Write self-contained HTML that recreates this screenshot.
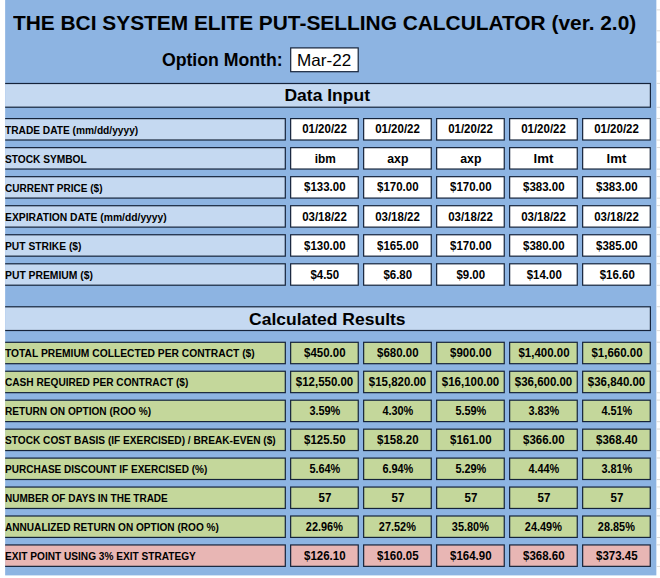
<!DOCTYPE html>
<html><head><meta charset="utf-8"><title>BCI Put-Selling Calculator</title>
<style>
html,body{margin:0;padding:0;background:#fff;}
body{width:660px;height:578px;position:relative;overflow:hidden;font-family:"Liberation Sans",Arial,sans-serif;color:#000;}
svg{position:absolute;left:0;top:0;}
.t{position:absolute;font-weight:bold;white-space:nowrap;}
.t span{display:inline-block;}
.l{left:5.2px;font-size:11.6px;text-align:left;}
.l span{transform-origin:0 50%;transform:scaleX(0.879);}
.v{font-size:12.6px;text-align:center;}
.v span{transform:scaleX(0.912);}
.h{left:5px;width:645px;text-align:center;font-size:17.3px;}
.h span{transform:scaleX(1.012);}
#title{left:13.4px;top:10.5px;font-size:21px;line-height:24px;transform-origin:0 50%;transform:scaleX(0.994);}
#om{left:161.9px;top:47.5px;font-size:17.7px;line-height:24px;}
#mon{left:289.6px;top:48.4px;width:68.7px;height:25px;font-weight:normal;font-size:16.5px;text-align:center;line-height:25px;}
#mon span{transform:scaleX(1.035);}
</style></head><body>
<svg width="660" height="578" viewBox="0 0 660 578">
<defs><clipPath id="cp"><rect x="5.15" y="0" width="651.2" height="575.4"/></clipPath></defs>
<rect x="5.15" y="0" width="651.2" height="575.4" fill="#8db4e2"/>
<g clip-path="url(#cp)" stroke="#15233a" stroke-width="1.2">
<rect x="-4.40" y="83.50" width="654.80" height="23.70" fill="#c5d9f1"/>
<rect x="-4.40" y="306.80" width="654.80" height="23.70" fill="#c5d9f1"/>
<rect x="-4.40" y="118.60" width="289.70" height="21.40" fill="#c5d9f1"/>
<rect x="290.65" y="118.60" width="67.60" height="21.40" fill="#ffffff"/>
<rect x="363.65" y="118.60" width="67.60" height="21.40" fill="#ffffff"/>
<rect x="436.65" y="118.60" width="67.60" height="21.40" fill="#ffffff"/>
<rect x="509.65" y="118.60" width="67.60" height="21.40" fill="#ffffff"/>
<rect x="582.65" y="118.60" width="67.60" height="21.40" fill="#ffffff"/>
<rect x="-4.40" y="147.64" width="289.70" height="21.40" fill="#c5d9f1"/>
<rect x="290.65" y="147.64" width="67.60" height="21.40" fill="#ffffff"/>
<rect x="363.65" y="147.64" width="67.60" height="21.40" fill="#ffffff"/>
<rect x="436.65" y="147.64" width="67.60" height="21.40" fill="#ffffff"/>
<rect x="509.65" y="147.64" width="67.60" height="21.40" fill="#ffffff"/>
<rect x="582.65" y="147.64" width="67.60" height="21.40" fill="#ffffff"/>
<rect x="-4.40" y="176.68" width="289.70" height="21.40" fill="#c5d9f1"/>
<rect x="290.65" y="176.68" width="67.60" height="21.40" fill="#ffffff"/>
<rect x="363.65" y="176.68" width="67.60" height="21.40" fill="#ffffff"/>
<rect x="436.65" y="176.68" width="67.60" height="21.40" fill="#ffffff"/>
<rect x="509.65" y="176.68" width="67.60" height="21.40" fill="#ffffff"/>
<rect x="582.65" y="176.68" width="67.60" height="21.40" fill="#ffffff"/>
<rect x="-4.40" y="205.72" width="289.70" height="21.40" fill="#c5d9f1"/>
<rect x="290.65" y="205.72" width="67.60" height="21.40" fill="#ffffff"/>
<rect x="363.65" y="205.72" width="67.60" height="21.40" fill="#ffffff"/>
<rect x="436.65" y="205.72" width="67.60" height="21.40" fill="#ffffff"/>
<rect x="509.65" y="205.72" width="67.60" height="21.40" fill="#ffffff"/>
<rect x="582.65" y="205.72" width="67.60" height="21.40" fill="#ffffff"/>
<rect x="-4.40" y="234.76" width="289.70" height="21.40" fill="#c5d9f1"/>
<rect x="290.65" y="234.76" width="67.60" height="21.40" fill="#ffffff"/>
<rect x="363.65" y="234.76" width="67.60" height="21.40" fill="#ffffff"/>
<rect x="436.65" y="234.76" width="67.60" height="21.40" fill="#ffffff"/>
<rect x="509.65" y="234.76" width="67.60" height="21.40" fill="#ffffff"/>
<rect x="582.65" y="234.76" width="67.60" height="21.40" fill="#ffffff"/>
<rect x="-4.40" y="263.80" width="289.70" height="21.40" fill="#c5d9f1"/>
<rect x="290.65" y="263.80" width="67.60" height="21.40" fill="#ffffff"/>
<rect x="363.65" y="263.80" width="67.60" height="21.40" fill="#ffffff"/>
<rect x="436.65" y="263.80" width="67.60" height="21.40" fill="#ffffff"/>
<rect x="509.65" y="263.80" width="67.60" height="21.40" fill="#ffffff"/>
<rect x="582.65" y="263.80" width="67.60" height="21.40" fill="#ffffff"/>
<rect x="-4.40" y="342.30" width="289.70" height="21.40" fill="#c4d79b"/>
<rect x="290.65" y="342.30" width="67.60" height="21.40" fill="#c4d79b"/>
<rect x="363.65" y="342.30" width="67.60" height="21.40" fill="#c4d79b"/>
<rect x="436.65" y="342.30" width="67.60" height="21.40" fill="#c4d79b"/>
<rect x="509.65" y="342.30" width="67.60" height="21.40" fill="#c4d79b"/>
<rect x="582.65" y="342.30" width="67.60" height="21.40" fill="#c4d79b"/>
<rect x="-4.40" y="371.25" width="289.70" height="21.40" fill="#c4d79b"/>
<rect x="290.65" y="371.25" width="67.60" height="21.40" fill="#c4d79b"/>
<rect x="363.65" y="371.25" width="67.60" height="21.40" fill="#c4d79b"/>
<rect x="436.65" y="371.25" width="67.60" height="21.40" fill="#c4d79b"/>
<rect x="509.65" y="371.25" width="67.60" height="21.40" fill="#c4d79b"/>
<rect x="582.65" y="371.25" width="67.60" height="21.40" fill="#c4d79b"/>
<rect x="-4.40" y="400.20" width="289.70" height="21.40" fill="#c4d79b"/>
<rect x="290.65" y="400.20" width="67.60" height="21.40" fill="#c4d79b"/>
<rect x="363.65" y="400.20" width="67.60" height="21.40" fill="#c4d79b"/>
<rect x="436.65" y="400.20" width="67.60" height="21.40" fill="#c4d79b"/>
<rect x="509.65" y="400.20" width="67.60" height="21.40" fill="#c4d79b"/>
<rect x="582.65" y="400.20" width="67.60" height="21.40" fill="#c4d79b"/>
<rect x="-4.40" y="429.15" width="289.70" height="21.40" fill="#c4d79b"/>
<rect x="290.65" y="429.15" width="67.60" height="21.40" fill="#c4d79b"/>
<rect x="363.65" y="429.15" width="67.60" height="21.40" fill="#c4d79b"/>
<rect x="436.65" y="429.15" width="67.60" height="21.40" fill="#c4d79b"/>
<rect x="509.65" y="429.15" width="67.60" height="21.40" fill="#c4d79b"/>
<rect x="582.65" y="429.15" width="67.60" height="21.40" fill="#c4d79b"/>
<rect x="-4.40" y="458.10" width="289.70" height="21.40" fill="#c4d79b"/>
<rect x="290.65" y="458.10" width="67.60" height="21.40" fill="#c4d79b"/>
<rect x="363.65" y="458.10" width="67.60" height="21.40" fill="#c4d79b"/>
<rect x="436.65" y="458.10" width="67.60" height="21.40" fill="#c4d79b"/>
<rect x="509.65" y="458.10" width="67.60" height="21.40" fill="#c4d79b"/>
<rect x="582.65" y="458.10" width="67.60" height="21.40" fill="#c4d79b"/>
<rect x="-4.40" y="487.05" width="289.70" height="21.40" fill="#c4d79b"/>
<rect x="290.65" y="487.05" width="67.60" height="21.40" fill="#c4d79b"/>
<rect x="363.65" y="487.05" width="67.60" height="21.40" fill="#c4d79b"/>
<rect x="436.65" y="487.05" width="67.60" height="21.40" fill="#c4d79b"/>
<rect x="509.65" y="487.05" width="67.60" height="21.40" fill="#c4d79b"/>
<rect x="582.65" y="487.05" width="67.60" height="21.40" fill="#c4d79b"/>
<rect x="-4.40" y="516.00" width="289.70" height="21.40" fill="#c4d79b"/>
<rect x="290.65" y="516.00" width="67.60" height="21.40" fill="#c4d79b"/>
<rect x="363.65" y="516.00" width="67.60" height="21.40" fill="#c4d79b"/>
<rect x="436.65" y="516.00" width="67.60" height="21.40" fill="#c4d79b"/>
<rect x="509.65" y="516.00" width="67.60" height="21.40" fill="#c4d79b"/>
<rect x="582.65" y="516.00" width="67.60" height="21.40" fill="#c4d79b"/>
<rect x="-4.40" y="544.95" width="289.70" height="21.40" fill="#e8b6b4"/>
<rect x="290.65" y="544.95" width="67.60" height="21.40" fill="#e8b6b4"/>
<rect x="363.65" y="544.95" width="67.60" height="21.40" fill="#e8b6b4"/>
<rect x="436.65" y="544.95" width="67.60" height="21.40" fill="#e8b6b4"/>
<rect x="509.65" y="544.95" width="67.60" height="21.40" fill="#e8b6b4"/>
<rect x="582.65" y="544.95" width="67.60" height="21.40" fill="#e8b6b4"/>
<rect x="290.70" y="47.90" width="67.50" height="23.80" fill="#ffffff"/>
</g>
<g stroke="#dadada" stroke-width="1">
<line x1="656.4" x2="660" y1="9.9" y2="9.9"/>
<line x1="656.4" x2="660" y1="30.8" y2="30.8"/>
<line x1="656.4" x2="660" y1="42" y2="42"/>
<line x1="656.4" x2="660" y1="71" y2="71"/>
<line x1="656.4" x2="660" y1="83.4" y2="83.4"/>
<line x1="656.4" x2="660" y1="107.3" y2="107.3"/>
<line x1="656.4" x2="660" y1="306.7" y2="306.7"/>
<line x1="656.4" x2="660" y1="330.6" y2="330.6"/>
<line x1="656.4" x2="660" y1="118.5" y2="118.5"/>
<line x1="656.4" x2="660" y1="140.1" y2="140.1"/>
<line x1="656.4" x2="660" y1="147.54" y2="147.54"/>
<line x1="656.4" x2="660" y1="169.14" y2="169.14"/>
<line x1="656.4" x2="660" y1="176.57999999999998" y2="176.57999999999998"/>
<line x1="656.4" x2="660" y1="198.17999999999998" y2="198.17999999999998"/>
<line x1="656.4" x2="660" y1="205.62" y2="205.62"/>
<line x1="656.4" x2="660" y1="227.22" y2="227.22"/>
<line x1="656.4" x2="660" y1="234.66" y2="234.66"/>
<line x1="656.4" x2="660" y1="256.26" y2="256.26"/>
<line x1="656.4" x2="660" y1="263.7" y2="263.7"/>
<line x1="656.4" x2="660" y1="285.3" y2="285.3"/>
<line x1="656.4" x2="660" y1="342.2" y2="342.2"/>
<line x1="656.4" x2="660" y1="363.8" y2="363.8"/>
<line x1="656.4" x2="660" y1="371.15" y2="371.15"/>
<line x1="656.4" x2="660" y1="392.75" y2="392.75"/>
<line x1="656.4" x2="660" y1="400.09999999999997" y2="400.09999999999997"/>
<line x1="656.4" x2="660" y1="421.7" y2="421.7"/>
<line x1="656.4" x2="660" y1="429.04999999999995" y2="429.04999999999995"/>
<line x1="656.4" x2="660" y1="450.65" y2="450.65"/>
<line x1="656.4" x2="660" y1="458.0" y2="458.0"/>
<line x1="656.4" x2="660" y1="479.6" y2="479.6"/>
<line x1="656.4" x2="660" y1="486.95" y2="486.95"/>
<line x1="656.4" x2="660" y1="508.55" y2="508.55"/>
<line x1="656.4" x2="660" y1="515.9" y2="515.9"/>
<line x1="656.4" x2="660" y1="537.5" y2="537.5"/>
<line x1="656.4" x2="660" y1="544.85" y2="544.85"/>
<line x1="656.4" x2="660" y1="566.45" y2="566.45"/>
</g>
</svg>
<div class="t" id="title">THE BCI SYSTEM ELITE PUT-SELLING CALCULATOR (ver. 2.0)</div>
<div class="t" id="om">Option Month:</div>
<div class="t" id="mon"><span>Mar-22</span></div>
<div class="t h" style="top:83.40px;height:24.90px;line-height:24.90px"><span>Data Input</span></div>
<div class="t h" style="top:307.00px;height:24.90px;line-height:24.90px"><span>Calculated Results</span></div>
<div class="t l" style="top:118.60px;height:22.60px;line-height:22.60px"><span style="transform:scaleX(0.8772)">TRADE DATE (mm/dd/yyyy)</span></div>
<div class="t v" style="left:290.45px;width:68.80px;top:118.40px;height:22.60px;line-height:22.60px"><span>01/20/22</span></div>
<div class="t v" style="left:363.45px;width:68.80px;top:118.40px;height:22.60px;line-height:22.60px"><span>01/20/22</span></div>
<div class="t v" style="left:436.45px;width:68.80px;top:118.40px;height:22.60px;line-height:22.60px"><span>01/20/22</span></div>
<div class="t v" style="left:509.45px;width:68.80px;top:118.40px;height:22.60px;line-height:22.60px"><span>01/20/22</span></div>
<div class="t v" style="left:582.45px;width:68.80px;top:118.40px;height:22.60px;line-height:22.60px"><span>01/20/22</span></div>
<div class="t l" style="top:147.64px;height:22.60px;line-height:22.60px"><span style="transform:scaleX(0.8771)">STOCK SYMBOL</span></div>
<div class="t v" style="left:290.45px;width:68.80px;top:148.14px;height:22.60px;line-height:22.60px"><span style="transform:scaleX(0.94)">ibm</span></div>
<div class="t v" style="left:363.45px;width:68.80px;top:148.14px;height:22.60px;line-height:22.60px"><span style="transform:scaleX(0.975)">axp</span></div>
<div class="t v" style="left:436.45px;width:68.80px;top:148.14px;height:22.60px;line-height:22.60px"><span style="transform:scaleX(0.975)">axp</span></div>
<div class="t v" style="left:509.45px;width:68.80px;top:148.14px;height:22.60px;line-height:22.60px"><span style="transform:scaleX(1.05)">lmt</span></div>
<div class="t v" style="left:582.45px;width:68.80px;top:148.14px;height:22.60px;line-height:22.60px"><span style="transform:scaleX(1.05)">lmt</span></div>
<div class="t l" style="top:176.68px;height:22.60px;line-height:22.60px"><span style="transform:scaleX(0.8647)">CURRENT PRICE ($)</span></div>
<div class="t v" style="left:290.45px;width:68.80px;top:176.48px;height:22.60px;line-height:22.60px"><span>$133.00</span></div>
<div class="t v" style="left:363.45px;width:68.80px;top:176.48px;height:22.60px;line-height:22.60px"><span>$170.00</span></div>
<div class="t v" style="left:436.45px;width:68.80px;top:176.48px;height:22.60px;line-height:22.60px"><span>$170.00</span></div>
<div class="t v" style="left:509.45px;width:68.80px;top:176.48px;height:22.60px;line-height:22.60px"><span>$383.00</span></div>
<div class="t v" style="left:582.45px;width:68.80px;top:176.48px;height:22.60px;line-height:22.60px"><span>$383.00</span></div>
<div class="t l" style="top:205.72px;height:22.60px;line-height:22.60px"><span style="transform:scaleX(0.8894)">EXPIRATION DATE (mm/dd/yyyy)</span></div>
<div class="t v" style="left:290.45px;width:68.80px;top:205.52px;height:22.60px;line-height:22.60px"><span>03/18/22</span></div>
<div class="t v" style="left:363.45px;width:68.80px;top:205.52px;height:22.60px;line-height:22.60px"><span>03/18/22</span></div>
<div class="t v" style="left:436.45px;width:68.80px;top:205.52px;height:22.60px;line-height:22.60px"><span>03/18/22</span></div>
<div class="t v" style="left:509.45px;width:68.80px;top:205.52px;height:22.60px;line-height:22.60px"><span>03/18/22</span></div>
<div class="t v" style="left:582.45px;width:68.80px;top:205.52px;height:22.60px;line-height:22.60px"><span>03/18/22</span></div>
<div class="t l" style="top:234.76px;height:22.60px;line-height:22.60px"><span style="transform:scaleX(0.8854)">PUT STRIKE ($)</span></div>
<div class="t v" style="left:290.45px;width:68.80px;top:234.56px;height:22.60px;line-height:22.60px"><span>$130.00</span></div>
<div class="t v" style="left:363.45px;width:68.80px;top:234.56px;height:22.60px;line-height:22.60px"><span>$165.00</span></div>
<div class="t v" style="left:436.45px;width:68.80px;top:234.56px;height:22.60px;line-height:22.60px"><span>$170.00</span></div>
<div class="t v" style="left:509.45px;width:68.80px;top:234.56px;height:22.60px;line-height:22.60px"><span>$380.00</span></div>
<div class="t v" style="left:582.45px;width:68.80px;top:234.56px;height:22.60px;line-height:22.60px"><span>$385.00</span></div>
<div class="t l" style="top:263.80px;height:22.60px;line-height:22.60px"><span style="transform:scaleX(0.8928)">PUT PREMIUM ($)</span></div>
<div class="t v" style="left:290.45px;width:68.80px;top:263.60px;height:22.60px;line-height:22.60px"><span>$4.50</span></div>
<div class="t v" style="left:363.45px;width:68.80px;top:263.60px;height:22.60px;line-height:22.60px"><span>$6.80</span></div>
<div class="t v" style="left:436.45px;width:68.80px;top:263.60px;height:22.60px;line-height:22.60px"><span>$9.00</span></div>
<div class="t v" style="left:509.45px;width:68.80px;top:263.60px;height:22.60px;line-height:22.60px"><span>$14.00</span></div>
<div class="t v" style="left:582.45px;width:68.80px;top:263.60px;height:22.60px;line-height:22.60px"><span>$16.60</span></div>
<div class="t l" style="top:342.30px;height:22.60px;line-height:22.60px"><span style="transform:scaleX(0.8852)">TOTAL PREMIUM COLLECTED PER CONTRACT ($)</span></div>
<div class="t v" style="left:290.45px;width:68.80px;top:342.10px;height:22.60px;line-height:22.60px"><span>$450.00</span></div>
<div class="t v" style="left:363.45px;width:68.80px;top:342.10px;height:22.60px;line-height:22.60px"><span>$680.00</span></div>
<div class="t v" style="left:436.45px;width:68.80px;top:342.10px;height:22.60px;line-height:22.60px"><span>$900.00</span></div>
<div class="t v" style="left:509.45px;width:68.80px;top:342.10px;height:22.60px;line-height:22.60px"><span>$1,400.00</span></div>
<div class="t v" style="left:582.45px;width:68.80px;top:342.10px;height:22.60px;line-height:22.60px"><span>$1,660.00</span></div>
<div class="t l" style="top:371.25px;height:22.60px;line-height:22.60px"><span style="transform:scaleX(0.8730)">CASH REQUIRED PER CONTRACT ($)</span></div>
<div class="t v" style="left:290.45px;width:68.80px;top:371.05px;height:22.60px;line-height:22.60px"><span>$12,550.00</span></div>
<div class="t v" style="left:363.45px;width:68.80px;top:371.05px;height:22.60px;line-height:22.60px"><span>$15,820.00</span></div>
<div class="t v" style="left:436.45px;width:68.80px;top:371.05px;height:22.60px;line-height:22.60px"><span>$16,100.00</span></div>
<div class="t v" style="left:509.45px;width:68.80px;top:371.05px;height:22.60px;line-height:22.60px"><span>$36,600.00</span></div>
<div class="t v" style="left:582.45px;width:68.80px;top:371.05px;height:22.60px;line-height:22.60px"><span>$36,840.00</span></div>
<div class="t l" style="top:400.20px;height:22.60px;line-height:22.60px"><span style="transform:scaleX(0.8720)">RETURN ON OPTION (ROO %)</span></div>
<div class="t v" style="left:290.45px;width:68.80px;top:400.00px;height:22.60px;line-height:22.60px"><span style="transform:scaleX(0.866)">3.59%</span></div>
<div class="t v" style="left:363.45px;width:68.80px;top:400.00px;height:22.60px;line-height:22.60px"><span style="transform:scaleX(0.866)">4.30%</span></div>
<div class="t v" style="left:436.45px;width:68.80px;top:400.00px;height:22.60px;line-height:22.60px"><span style="transform:scaleX(0.866)">5.59%</span></div>
<div class="t v" style="left:509.45px;width:68.80px;top:400.00px;height:22.60px;line-height:22.60px"><span style="transform:scaleX(0.866)">3.83%</span></div>
<div class="t v" style="left:582.45px;width:68.80px;top:400.00px;height:22.60px;line-height:22.60px"><span style="transform:scaleX(0.866)">4.51%</span></div>
<div class="t l" style="top:429.15px;height:22.60px;line-height:22.60px"><span style="transform:scaleX(0.8744)">STOCK COST BASIS (IF EXERCISED) / BREAK-EVEN ($)</span></div>
<div class="t v" style="left:290.45px;width:68.80px;top:428.95px;height:22.60px;line-height:22.60px"><span>$125.50</span></div>
<div class="t v" style="left:363.45px;width:68.80px;top:428.95px;height:22.60px;line-height:22.60px"><span>$158.20</span></div>
<div class="t v" style="left:436.45px;width:68.80px;top:428.95px;height:22.60px;line-height:22.60px"><span>$161.00</span></div>
<div class="t v" style="left:509.45px;width:68.80px;top:428.95px;height:22.60px;line-height:22.60px"><span>$366.00</span></div>
<div class="t v" style="left:582.45px;width:68.80px;top:428.95px;height:22.60px;line-height:22.60px"><span>$368.40</span></div>
<div class="t l" style="top:458.10px;height:22.60px;line-height:22.60px"><span style="transform:scaleX(0.8653)">PURCHASE DISCOUNT IF EXERCISED (%)</span></div>
<div class="t v" style="left:290.45px;width:68.80px;top:457.90px;height:22.60px;line-height:22.60px"><span style="transform:scaleX(0.866)">5.64%</span></div>
<div class="t v" style="left:363.45px;width:68.80px;top:457.90px;height:22.60px;line-height:22.60px"><span style="transform:scaleX(0.866)">6.94%</span></div>
<div class="t v" style="left:436.45px;width:68.80px;top:457.90px;height:22.60px;line-height:22.60px"><span style="transform:scaleX(0.866)">5.29%</span></div>
<div class="t v" style="left:509.45px;width:68.80px;top:457.90px;height:22.60px;line-height:22.60px"><span style="transform:scaleX(0.866)">4.44%</span></div>
<div class="t v" style="left:582.45px;width:68.80px;top:457.90px;height:22.60px;line-height:22.60px"><span style="transform:scaleX(0.866)">3.81%</span></div>
<div class="t l" style="top:487.05px;height:22.60px;line-height:22.60px"><span style="transform:scaleX(0.8612)">NUMBER OF DAYS IN THE TRADE</span></div>
<div class="t v" style="left:290.45px;width:68.80px;top:486.85px;height:22.60px;line-height:22.60px"><span>57</span></div>
<div class="t v" style="left:363.45px;width:68.80px;top:486.85px;height:22.60px;line-height:22.60px"><span>57</span></div>
<div class="t v" style="left:436.45px;width:68.80px;top:486.85px;height:22.60px;line-height:22.60px"><span>57</span></div>
<div class="t v" style="left:509.45px;width:68.80px;top:486.85px;height:22.60px;line-height:22.60px"><span>57</span></div>
<div class="t v" style="left:582.45px;width:68.80px;top:486.85px;height:22.60px;line-height:22.60px"><span>57</span></div>
<div class="t l" style="top:516.00px;height:22.60px;line-height:22.60px"><span style="transform:scaleX(0.8693)">ANNUALIZED RETURN ON OPTION (ROO %)</span></div>
<div class="t v" style="left:290.45px;width:68.80px;top:515.80px;height:22.60px;line-height:22.60px"><span style="transform:scaleX(0.866)">22.96%</span></div>
<div class="t v" style="left:363.45px;width:68.80px;top:515.80px;height:22.60px;line-height:22.60px"><span style="transform:scaleX(0.866)">27.52%</span></div>
<div class="t v" style="left:436.45px;width:68.80px;top:515.80px;height:22.60px;line-height:22.60px"><span style="transform:scaleX(0.866)">35.80%</span></div>
<div class="t v" style="left:509.45px;width:68.80px;top:515.80px;height:22.60px;line-height:22.60px"><span style="transform:scaleX(0.866)">24.49%</span></div>
<div class="t v" style="left:582.45px;width:68.80px;top:515.80px;height:22.60px;line-height:22.60px"><span style="transform:scaleX(0.866)">28.85%</span></div>
<div class="t l" style="top:544.95px;height:22.60px;line-height:22.60px"><span style="transform:scaleX(0.8722)">EXIT POINT USING 3% EXIT STRATEGY</span></div>
<div class="t v" style="left:290.45px;width:68.80px;top:544.75px;height:22.60px;line-height:22.60px"><span>$126.10</span></div>
<div class="t v" style="left:363.45px;width:68.80px;top:544.75px;height:22.60px;line-height:22.60px"><span>$160.05</span></div>
<div class="t v" style="left:436.45px;width:68.80px;top:544.75px;height:22.60px;line-height:22.60px"><span>$164.90</span></div>
<div class="t v" style="left:509.45px;width:68.80px;top:544.75px;height:22.60px;line-height:22.60px"><span>$368.60</span></div>
<div class="t v" style="left:582.45px;width:68.80px;top:544.75px;height:22.60px;line-height:22.60px"><span>$373.45</span></div>
</body></html>
